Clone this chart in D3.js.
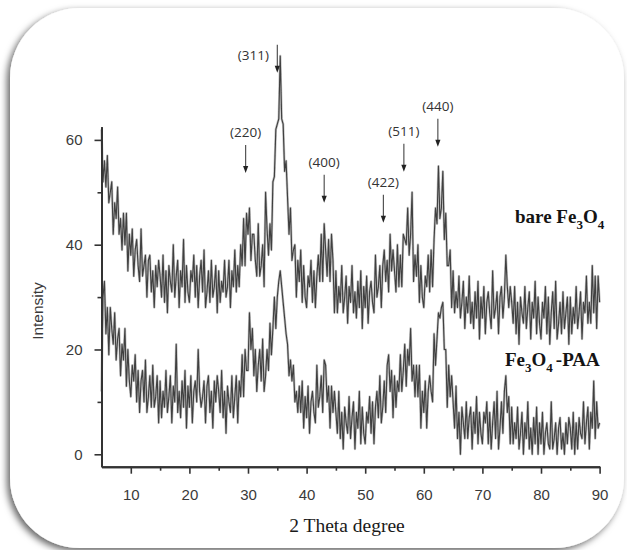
<!DOCTYPE html>
<html>
<head>
<meta charset="utf-8">
<script src="https://cdn.jsdelivr.net/npm/d3@7"></script>
<style>
body { margin: 0; background: #fff; }
</style>
</head>
<body>
<svg id="svg"></svg>
<script>
// XRD patterns, one intensity reading every 0.25 degree (2 theta) from 5 to 90

var startAngle = 5, stepAngle = 0.25;

var bareFe3O4 = [
    62, 52, 56, 51, 57, 48, 50, 52, 42, 48, 45, 51, 42, 45, 39, 46, 40, 46, 35, 42, // 5
    38, 43, 34, 39, 41, 36, 33, 43, 34, 36, 38, 30, 37, 38, 31, 35, 28, 36, 32, 37, // 10
    34, 30, 38, 29, 35, 27, 36, 33, 31, 40, 30, 34, 37, 28, 35, 32, 41, 29, 36, 31, // 15
    29, 35, 33, 38, 30, 36, 28, 34, 37, 31, 39, 28, 31, 35, 29, 37, 30, 32, 36, 27, // 20
    35, 29, 33, 31, 37, 30, 32, 37, 28, 35, 32, 39, 31, 36, 32, 40, 36, 45, 36, 46, // 25
    42, 47, 37, 42, 42, 37, 34, 44, 34, 36, 40, 32, 50, 43, 38, 44, 39, 52, 53, 62, // 30
    63, 64, 76, 64, 63, 54, 56, 49, 42, 47, 37, 39, 40, 30, 37, 33, 39, 29, 36, 30, // 35
    28, 34, 32, 37, 29, 35, 28, 34, 38, 33, 42, 33, 44, 39, 34, 41, 33, 42, 37, 27, // 40
    35, 27, 32, 29, 36, 27, 30, 34, 25, 32, 29, 36, 27, 31, 26, 33, 28, 35, 24, 32, // 45
    28, 34, 25, 31, 33, 29, 27, 38, 30, 32, 36, 28, 36, 39, 33, 37, 31, 42, 35, 39, // 50
    35, 31, 40, 32, 38, 32, 42, 41, 40, 47, 38, 42, 50, 33, 38, 34, 40, 29, 36, 30, // 55
    28, 34, 32, 38, 31, 39, 32, 41, 47, 44, 55, 45, 47, 54, 41, 46, 36, 36, 39, 28, // 60
    35, 27, 31, 28, 34, 26, 29, 33, 24, 30, 27, 34, 25, 29, 24, 31, 26, 33, 22, 30, // 65
    26, 32, 23, 29, 31, 27, 24, 35, 26, 28, 31, 23, 30, 32, 26, 30, 38, 32, 28, 32, // 70
    29, 25, 32, 23, 29, 21, 30, 27, 25, 32, 24, 28, 31, 22, 29, 26, 33, 23, 30, 25, // 75
    22, 29, 26, 32, 23, 30, 21, 27, 31, 24, 33, 22, 25, 29, 23, 31, 24, 27, 30, 21, // 80
    30, 23, 28, 25, 32, 24, 27, 31, 22, 29, 27, 34, 25, 29, 25, 36, 27, 34, 24, 34, // 85
    29                                                                              // 90
];

var paaFe3O4 = [
    12, 30, 33, 23, 28, 19, 28, 24, 21, 27, 18, 22, 24, 15, 21, 18, 24, 13, 20, 14, // 5
    11, 17, 14, 19, 10, 16, 8, 14, 16, 10, 18, 8, 11, 15, 9, 17, 9, 11, 15, 6,      // 10
    14, 7, 12, 9, 16, 8, 11, 15, 6, 13, 10, 21, 8, 12, 7, 14, 9, 16, 5, 13,          // 15
    9, 15, 6, 12, 14, 10, 20, 12, 9, 11, 14, 6, 13, 15, 8, 12, 5, 14, 10, 15,        // 20
    12, 8, 16, 7, 12, 4, 13, 10, 8, 15, 7, 11, 15, 6, 14, 11, 19, 11, 20, 16,        // 25
    16, 27, 20, 24, 15, 20, 12, 17, 20, 14, 22, 12, 15, 20, 16, 25, 19, 24, 30, 24,  // 30
    30, 33, 35, 32, 29, 26, 23, 21, 15, 18, 14, 17, 10, 12, 8, 13, 8, 14, 5, 11,     // 35
    7, 13, 4, 10, 12, 8, 6, 17, 9, 11, 15, 8, 18, 17, 10, 13, 5, 13, 8, 12,          // 40
    8, 4, 12, 3, 8, 1, 9, 6, 4, 11, 3, 7, 10, 1, 8, 5, 12, 2, 9, 4,                  // 45
    2, 8, 6, 11, 4, 10, 2, 9, 12, 7, 15, 6, 9, 14, 8, 17, 19, 12, 16, 7,             // 50
    15, 9, 14, 12, 19, 12, 16, 21, 13, 20, 17, 24, 14, 17, 11, 17, 11, 17, 5, 12,    // 55
    8, 14, 5, 12, 15, 12, 10, 23, 17, 22, 27, 26, 28, 29, 20, 20, 9, 17, 11, 15,     // 60
    10, 5, 13, 3, 8, 0, 9, 6, 3, 10, 3, 7, 9, 1, 8, 4, 11, 2, 8, 4,                  // 65
    2, 8, 6, 10, 2, 8, 1, 6, 10, 3, 12, 1, 5, 10, 4, 12, 15, 8, 11, 2,               // 70
    9, 2, 6, 3, 9, 1, 4, 8, 0, 6, 3, 10, 1, 5, 0, 7, 2, 9, 0, 6,                     // 75
    2, 8, 0, 4, 6, 2, 1, 10, 1, 3, 6, 0, 5, 7, 1, 4, 0, 6, 2, 7,                     // 80
    5, 1, 8, 0, 6, 1, 7, 4, 3, 10, 2, 6, 9, 1, 8, 5, 14, 3, 10, 5,                   // 85
    6                                                                                // 90
];

// Miller indices marked with arrows, their 2 theta and intensity at the arrow tip
var peakLabels = ["(220)", "(311)", "(400)", "(422)", "(511)", "(440)"];
var peakAngles = [29.6, 35.0, 43.0, 53.1, 56.6, 62.4];
var peakTips = [53.7, 72.8, 48.0, 44.2, 53.9, 58.7];

var xTicks = [10, 20, 30, 40, 50, 60, 70, 80, 90];
var xMinorTicks = [15, 25, 35, 45, 55, 65, 75, 85];
var yTicks = [0, 20, 40, 60];
var yMinorTicks = [10, 30, 50];

//////////////////////////////////////////////////////////////////////////////

var width = 627, height = 550;

var svg = d3.select("#svg")
        .attr("width", width)
        .attr("height", height);

var defs = svg.append("defs");

// rounded frame with a soft shadow to the lower left
var shadow = defs.append("filter").attr("id", "shadow")
        .attr("x", "-10%").attr("y", "-10%").attr("width", "120%").attr("height", "120%");
shadow.append("feDropShadow")
        .attr("dx", -3).attr("dy", 3)
        .attr("stdDeviation", 3.5)
        .attr("flood-color", "#000")
        .attr("flood-opacity", 0.6);

// the scan itself looks a little soft in the original
defs.append("filter").attr("id", "soft")
        .append("feGaussianBlur").attr("stdDeviation", 0.5);

svg.append("rect")
        .attr("x", 10).attr("y", 8)
        .attr("width", 614).attr("height", 540)
        .attr("rx", 70).attr("ry", 70)
        .attr("fill", "#fff")
        .attr("filter", "url(#shadow)");

var x = d3.scaleLinear().domain([5, 90]).range([101.5, 599.6]);
var y = d3.scaleLinear().domain([-2.37, 62.5]).range([466.7, 126.8]);

function angleAt(i) {
    return startAngle + i * stepAngle;
}

var line = d3.line()
        .x(function(d, i) { return x(angleAt(i)); })
        .y(function(d) { return y(d); });

// a grey halo under a darker stroke gives the fuzzy band of the scan
[bareFe3O4, paaFe3O4].forEach(function(series) {
    svg.append("path")
            .datum(series)
            .attr("d", line)
            .attr("fill", "none")
            .attr("stroke", "#8a8a8a")
            .attr("stroke-width", 2.4)
            .attr("stroke-opacity", 0.55)
            .attr("stroke-linejoin", "round")
            .attr("filter", "url(#soft)");
    svg.append("path")
            .datum(series)
            .attr("d", line)
            .attr("fill", "none")
            .attr("stroke", "#1e1e1e")
            .attr("stroke-width", 1.1)
            .attr("stroke-opacity", 0.8)
            .attr("stroke-linejoin", "round")
            .attr("filter", "url(#soft)");
});

// axes
function styleAxis(g) {
    g.selectAll("path.domain").attr("stroke", "#333").attr("stroke-width", 2);
    g.selectAll(".tick line").attr("stroke", "#333").attr("stroke-width", 1.6);
    g.selectAll(".tick text")
            .attr("fill", "#3a3a3a")
            .style("font-family", "'Liberation Sans', Arial, sans-serif")
            .style("font-size", "15px");
}

svg.append("g")
        .attr("transform", "translate(0," + y.range()[0] + ")")
        .call(d3.axisBottom(x).tickValues(xMinorTicks).tickSize(4).tickFormat("").tickSizeOuter(0))
        .call(styleAxis);
svg.append("g")
        .attr("transform", "translate(0," + y.range()[0] + ")")
        .call(d3.axisBottom(x).tickValues(xTicks).tickSize(7).tickPadding(16).tickSizeOuter(0).tickFormat(d3.format("d")))
        .call(styleAxis);

svg.append("g")
        .attr("transform", "translate(" + x.range()[0] + ",0)")
        .call(d3.axisLeft(y).tickValues(yMinorTicks).tickSize(4).tickFormat("").tickSizeOuter(0))
        .call(styleAxis);
svg.append("g")
        .attr("transform", "translate(" + x.range()[0] + ",0)")
        .call(d3.axisLeft(y).tickValues(yTicks).tickSize(7).tickPadding(12).tickSizeOuter(0).tickFormat(d3.format("d")))
        .call(styleAxis);

svg.append("text")
        .attr("transform", "translate(43," + 311 + ") rotate(-90)")
        .attr("text-anchor", "middle")
        .attr("fill", "#3a3a3a")
        .style("font-family", "'Liberation Sans', Arial, sans-serif")
        .style("font-size", "15.5px")
        .text("Intensity");

svg.append("text")
        .attr("x", 347).attr("y", 532)
        .attr("text-anchor", "middle")
        .attr("fill", "#1a1a1a")
        .style("font-family", "'Liberation Serif', 'Times New Roman', serif")
        .style("font-size", "19.5px")
        .text("2 Theta degree");

// peak arrows and hkl labels
var arrowLength = 28, headLength = 7;

var peaks = svg.append("g").selectAll("g")
        .data(peakLabels)
        .enter()
        .append("g")
        .attr("transform", function(d, i) {
            return "translate(" + x(peakAngles[i]) + "," + y(peakTips[i]) + ")";
        });

peaks.append("line")
        .attr("x1", 0).attr("x2", 0)
        .attr("y1", -arrowLength).attr("y2", -headLength + 1)
        .attr("stroke", "#444").attr("stroke-width", 1.1);

peaks.append("path")
        .attr("d", "M-2.6," + (-headLength) + "L2.6," + (-headLength) + "L0,0Z")
        .attr("fill", "#222");

peaks.append("text")
        .attr("x", function(d) { return d === "(311)" ? -24 : 0; })
        .attr("y", function(d) { return d === "(311)" ? -13 : -arrowLength - 8; })
        .attr("text-anchor", "middle")
        .attr("fill", "#333")
        .style("font-family", "'Open Sans', sans-serif")
        .style("font-size", "13.5px")
        .text(function(d) { return d; });

// series names
function seriesName(g, parts) {
    parts.forEach(function(p) {
        g.append("tspan")
                .attr("dy", p.sub ? 6 : (p.back ? -6 : 0))
                .style("font-size", p.sub ? "13px" : "19px")
                .text(p.t);
    });
}

var nameStyle = function(t) {
    t.attr("fill", "#141414")
        .style("font-family", "'Liberation Serif', 'Times New Roman', serif")
        .style("font-weight", "bold");
};

var bareName = svg.append("text").attr("x", 515).attr("y", 223).call(nameStyle);
seriesName(bareName, [{t: "bare Fe"}, {t: "3", sub: true}, {t: "O", back: true}, {t: "4", sub: true}]);

var paaName = svg.append("text").attr("x", 505).attr("y", 366).call(nameStyle);
seriesName(paaName, [{t: "Fe"}, {t: "3", sub: true}, {t: "O", back: true}, {t: "4", sub: true}, {t: "-PAA", back: true}]);
paaName.selectAll("tspan").filter(function(d, i) { return i === 4; }).attr("dx", 3);
</script>
</body>
</html>
